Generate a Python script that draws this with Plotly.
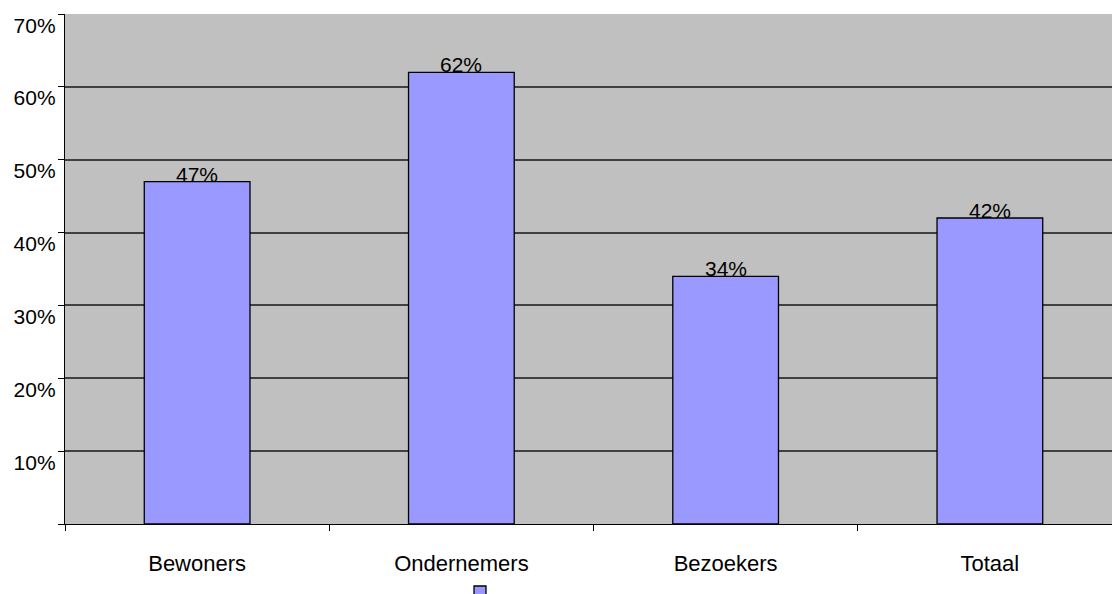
import plotly.graph_objects as go

categories = ["Bewoners", "Ondernemers", "Bezoekers", "Totaal"]
values = [47, 62, 34, 42]
tick_values = [0, 10, 20, 30, 40, 50, 60, 70]
tick_labels = ["", "10%", "20%", "30%", "40%", "50%", "60%", "70%"]

FONT = "Liberation Sans, Arial"
W, H = 1122, 594

fig = go.Figure()
fig.add_trace(go.Bar(
    x=categories, y=values, name=" ",
    marker=dict(color="#9999FF", line=dict(color="#000000", width=1.3)),
    width=0.4, cliponaxis=False, showlegend=True,
))
for c, v in zip(categories, values):
    fig.add_annotation(x=c, y=v, text=f"{v}%", showarrow=False,
                       yanchor="bottom", yshift=-6,
                       font=dict(family=FONT, size=21, color="#000000"))

fig.update_layout(
    width=W, height=H,
    margin=dict(l=65, r=0, t=14, b=70),
    paper_bgcolor="white", plot_bgcolor="#C0C0C0",
    font=dict(family=FONT, size=21, color="#000000"),
    bargap=0.6,
    showlegend=True,
    legend=dict(orientation="h", x=484 / W, xanchor="center", xref="container",
                y=1 - 592 / H, yanchor="middle", yref="container",
                bgcolor="rgba(0,0,0,0)", font=dict(size=10)),
)
fig.update_xaxes(
    showline=True, linecolor="#000000", linewidth=1.3,
    ticks="outside", tickson="boundaries", ticklen=6, tickcolor="#000000",
    showgrid=False, tickfont=dict(size=22), ticklabelstandoff=19,
    automargin=False,
)
fig.update_yaxes(
    range=[0, 70], tickvals=tick_values, ticktext=tick_labels,
    showline=True, linecolor="#000000", linewidth=1.3,
    ticks="outside", ticklen=6, tickcolor="#000000",
    showgrid=True, gridcolor="#404040", gridwidth=1.5,
    tickfont=dict(size=21), zeroline=False, ticklabelstandoff=4,
    ticklabelposition="outside bottom", ticklabelshift=-4, automargin=False,
)
fig.write_html(
    "out.html",
    config={"displayModeBar": False},
    post_script="document.body.style.margin='0';document.body.style.overflow='hidden';",
)
